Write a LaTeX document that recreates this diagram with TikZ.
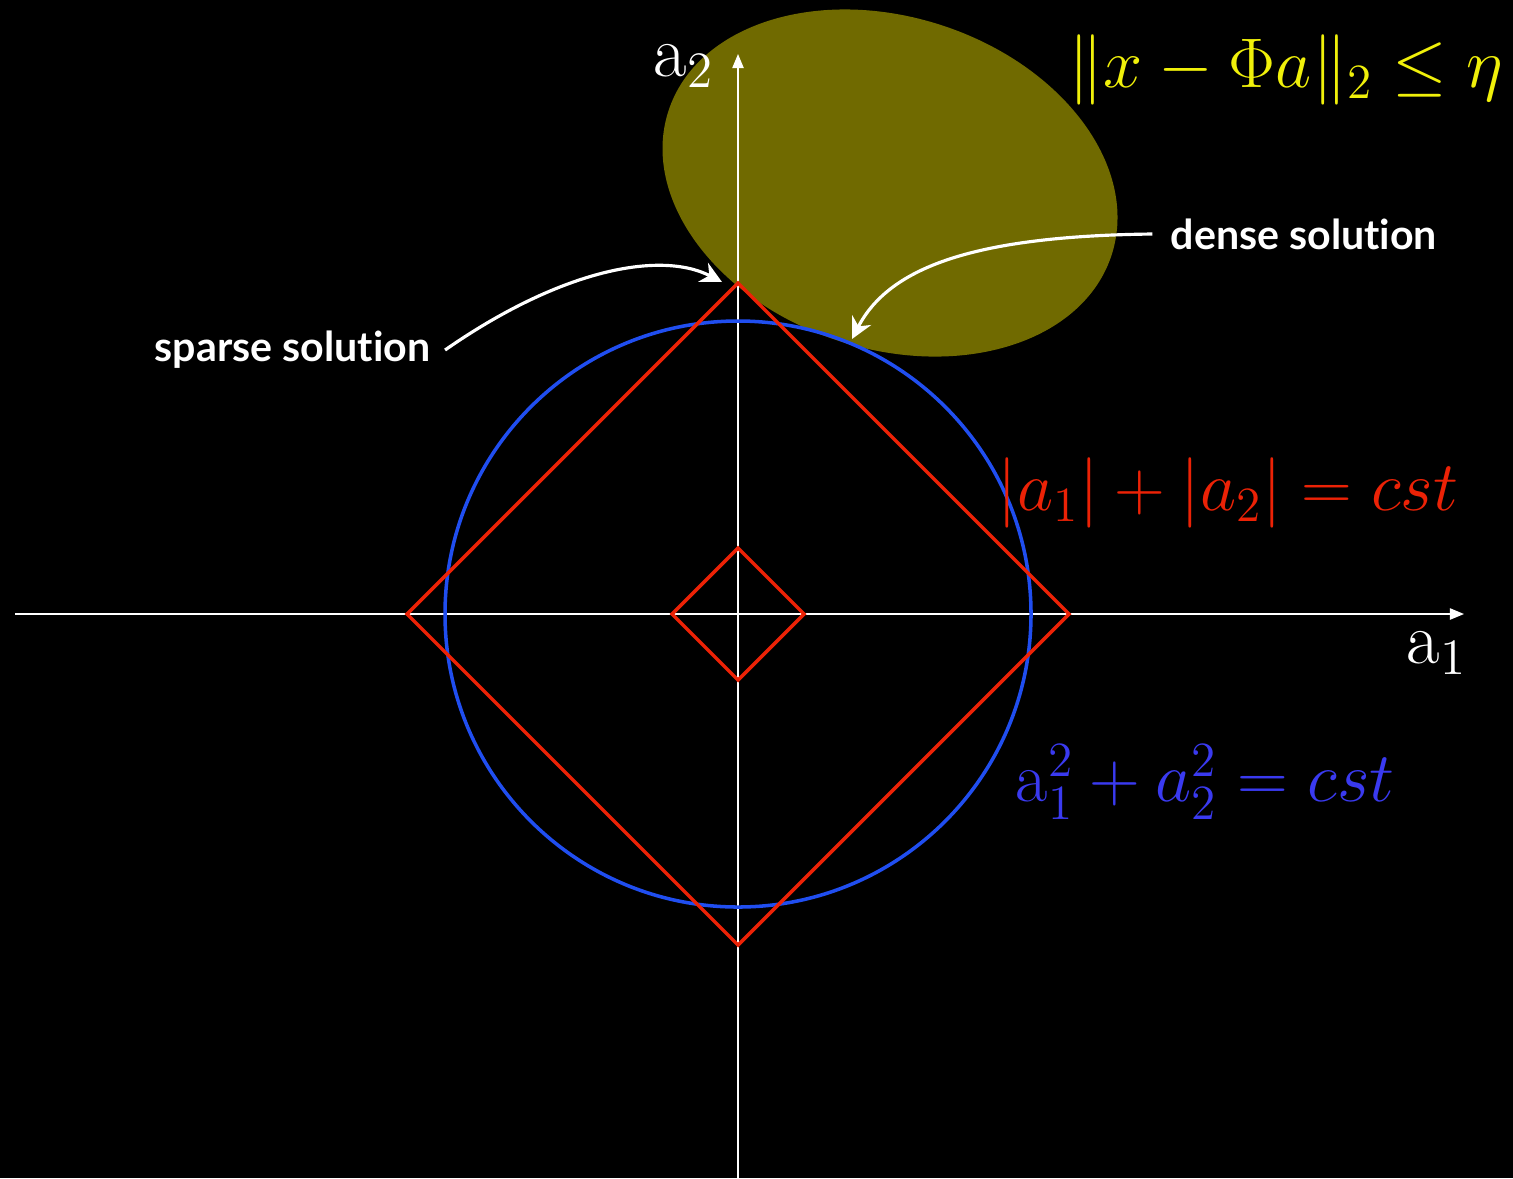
\RequirePackage{fix-cm}
\documentclass[tikz,border=0pt]{standalone}
\usepackage{fontspec}
\newfontfamily\gillfont{Lato}[Ligatures=NoCommon]
\usetikzlibrary{arrows.meta}
\definecolor{olivefill}{RGB}{112,106,0}
\definecolor{normred}{RGB}{236,34,6}
\definecolor{normblue}{RGB}{32,78,240}
\definecolor{textblue}{RGB}{58,58,240}
\definecolor{normyellow}{RGB}{240,240,10}
\begin{document}
\begin{tikzpicture}[x=0.01cm,y=-0.01cm]
		    \tikzset{
   			axis/.style={draw=white, line width=0.45pt, -{Triangle[length=4pt,width=3.2pt]}},
    			pointer/.style={draw=white, line width=0.9pt, -{Stealth[length=6pt,width=6pt]}},
    			formula/.style={font=\fontsize{20}{24}\selectfont, inner sep=0pt},
    			axlabel/.style={text=white, font=\fontsize{20.7}{24}\selectfont, inner sep=0pt},
    			remark/.style={text=white, font=\gillfont\bfseries\fontsize{11.7}{14}\selectfont, inner sep=0pt}
		    }
            \fill[black] (0,0) rectangle (1513,1178);
            \useasboundingbox (0,0) rectangle (1513,1178);

            % data-fidelity set
            \fill[olivefill, rotate around={-18:(890,183)}] (890,183) ellipse [x radius=233, y radius=166];

            % axes
            \coordinate (o) at (738,614);
            \coordinate (xl) at (15,614);
            \coordinate (xr) at (1464,614);
            \coordinate (yb) at (738,1178);
            \coordinate (yt) at (738,54);
            \draw[axis] (xl) -- (xr);
            \draw[axis] (yb) -- (yt);

            % l2 ball and l1 balls
            \draw[normblue, line width=1pt] (o) circle [radius=293];
            \foreach \r in {331,66}{
                \draw[normred, line width=1pt] (738-\r,614) -- (738,614-\r) -- (738+\r,614) -- (738,614+\r) -- cycle;
            }

            \draw node[axlabel] (a2) at (684,66) {$\mathrm{a}_2$};
            \draw node[axlabel] (a1) at (1437,653) {$\mathrm{a}_1$};
            \draw node[formula, text=normyellow, anchor=east] (fid) at (1504,70) {$\|x-\Phi a\|_2\leq\eta$};
            \draw node[formula, text=normred, anchor=east] (lone) at (1459,493) {$|a_1|+|a_2|=cst$};
            \draw node[formula, text=textblue, anchor=west] (ltwo) at (1015,782) {$\mathrm{a}_1^2+a_2^2=cst$};
            \draw node[remark, anchor=west] (dense) at (1170,234) {dense solution};
            \draw node[remark, anchor=east] (sparse) at (431,350) {sparse solution};

            \coordinate (sparsept) at (722,282);
            \coordinate (densept) at (852,339);
            \draw[pointer] ([xshift=4pt]sparse.east) .. controls (560,270) and (660,250) .. (sparsept);
            \draw[pointer] ([xshift=-5pt]dense.west) .. controls (980,236) and (890,265) .. (densept);
		    \end{tikzpicture}
\end{document}
